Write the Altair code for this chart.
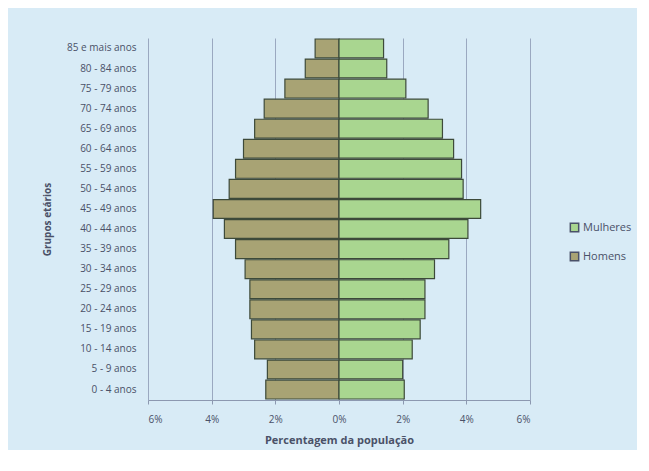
import altair as alt
import pandas as pd

grupos = ["85 e mais anos", "80 - 84 anos", "75 - 79 anos", "70 - 74 anos", "65 - 69 anos",
          "60 - 64 anos", "55 - 59 anos", "50 - 54 anos", "45 - 49 anos", "40 - 44 anos",
          "35 - 39 anos", "30 - 34 anos", "25 - 29 anos", "20 - 24 anos", "15 - 19 anos",
          "10 - 14 anos", "5 - 9 anos", "0 - 4 anos"]
homens = [0.75, 1.06, 1.7, 2.35, 2.65, 3.0, 3.25, 3.45, 3.95, 3.6,
          3.25, 2.95, 2.8, 2.8, 2.75, 2.65, 2.25, 2.3]
mulheres = [1.4, 1.5, 2.1, 2.8, 3.25, 3.6, 3.85, 3.9, 4.45, 4.05,
            3.45, 3.0, 2.7, 2.7, 2.55, 2.3, 2.0, 2.05]

rows = []
for g, h, m in zip(grupos, homens, mulheres):
    rows.append({"grupo": g, "sexo": "Homens", "valor": -h})
    rows.append({"grupo": g, "sexo": "Mulheres", "valor": m})
df = pd.DataFrame(rows)

font = "Open Sans"
txt = "#4a5168"

chart = alt.Chart(df).mark_bar(stroke="#3d4a3a", strokeWidth=1.2).encode(
    y=alt.Y("grupo:N", sort=grupos, title="Grupos etários",
            scale=alt.Scale(paddingInner=0.06, paddingOuter=0.05),
            axis=alt.Axis(labelFont=font, labelFontSize=10, labelColor=txt, ticks=False,
                          domain=False, labelPadding=12,
                          titleFont=font, titleFontSize=10, titleColor=txt, titleFontWeight="bold",
                          titlePadding=14)),
    x=alt.X("valor:Q", title="Percentagem da população",
            scale=alt.Scale(domain=[-6, 6], nice=False),
            axis=alt.Axis(values=[-6, -4, -2, 0, 2, 4, 6], labelExpr="abs(datum.value) + '%'",
                          labelFont=font, labelFontSize=10, labelColor=txt, labelPadding=10,
                          grid=True, gridColor="#9aa8c0", gridWidth=1,
                          domainColor="#8c98b0", tickColor="#8c98b0", tickSize=4,
                          titleFont=font, titleFontSize=11, titleColor=txt, titleFontWeight="bold",
                          titlePadding=10)),
    color=alt.Color("sexo:N", sort=["Mulheres", "Homens"],
                    scale=alt.Scale(domain=["Mulheres", "Homens"], range=["#a9d690", "#a8a374"]),
                    legend=alt.Legend(title=None, orient="none", legendX=421, legendY=184,
                                      symbolType="square",
                                      symbolSize=70, symbolStrokeColor="#4a5168", symbolStrokeWidth=1.5,
                                      labelFont=font, labelFontSize=11, labelColor=txt,
                                      rowPadding=14, labelOffset=3, padding=0)),
).properties(
    width=382, height=362, background="#d8ebf6",
    padding={"left": 34, "top": 30, "right": 5, "bottom": 5}
).configure_view(stroke=None)

chart.save("out.html", embed_options={"renderer": "svg", "actions": False})
